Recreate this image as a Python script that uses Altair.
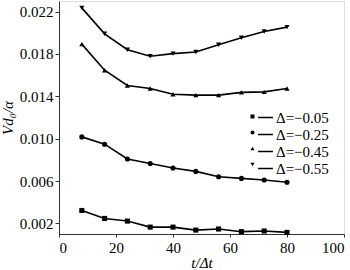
import altair as alt
import pandas as pd

t = [8, 16, 24, 32, 40, 48, 56, 64, 72, 80]
series = ["Δ=−0.05", "Δ=−0.25", "Δ=−0.45", "Δ=−0.55"]
d005 = [0.00322, 0.00247, 0.00222, 0.00165, 0.00165, 0.00137, 0.00147, 0.00122, 0.00128, 0.00115]
d025 = [0.01017, 0.00948, 0.00808, 0.00766, 0.00723, 0.00691, 0.00641, 0.00625, 0.00610, 0.00588]
d045 = [0.01893, 0.01646, 0.01502, 0.01474, 0.01420, 0.01411, 0.01411, 0.01437, 0.01442, 0.01474]
d055 = [0.02235, 0.01990, 0.01840, 0.01778, 0.01803, 0.01818, 0.01887, 0.01953, 0.02012, 0.02053]
x_ticks = [0, 20, 40, 60, 80, 100]
y_ticks = [0.002, 0.006, 0.010, 0.014, 0.018, 0.022]

rows = []
for name, vals in zip(series, [d005, d025, d045, d055]):
    for tt, v in zip(t, vals):
        rows.append({"t": tt, "v": v, "series": name, "label": name})
df = pd.DataFrame(rows)

FONT = "Times New Roman, Liberation Serif, serif"

x = alt.X("t:Q", scale=alt.Scale(domain=[0, 100], nice=False),
          axis=alt.Axis(values=x_ticks, title="t/Δt", titleFontStyle="italic",
                        titleFont=FONT, titleFontSize=15, titleFontWeight="normal",
                        titlePadding=0, labelFont=FONT, labelFontSize=15,
                        labelPadding=3, tickSize=3, grid=False, domainColor="#333",
                        tickColor="#333", labelColor="black", titleColor="black"))
y = alt.Y("v:Q", scale=alt.Scale(domain=[0.001, 0.023], nice=False, zero=False),
          axis=alt.Axis(values=y_ticks, format=".3f", title="Vd₀/α", titleFontStyle="italic",
                        titleFont=FONT, titleFontSize=15, titleFontWeight="normal",
                        titlePadding=4, labelFont=FONT, labelFontSize=15,
                        labelPadding=2, tickSize=4, grid=False, domainColor="#333",
                        tickColor="#333", labelColor="black", titleColor="black"))

lines = alt.Chart(df).mark_line(strokeWidth=1.6).encode(
    x=x, y=y,
    color=alt.Color("label:N", sort=series,
                    scale=alt.Scale(range=["black"] * 4),
                    legend=alt.Legend(title=None, orient="none", legendX=198, legendY=108,
                                      symbolType="stroke", symbolSize=220,
                                      symbolStrokeWidth=1.5, symbolStrokeColor="black",
                                      labelFont=FONT, labelFontSize=15, labelColor="black",
                                      labelOffset=2, rowPadding=0, padding=0)),
)
points = alt.Chart(df).mark_point(filled=True, opacity=1, color="black").encode(
    x=x, y=y,
    shape=alt.Shape("series:N", sort=series,
                    scale=alt.Scale(range=["square", "circle", "triangle-up", "triangle-down"]),
                    legend=alt.Legend(title=None, orient="none", legendX=186, legendY=108,
                                      symbolSize=16, symbolFillColor="black",
                                      symbolStrokeColor="black", labelExpr="''",
                                      labelFontSize=15, rowPadding=0, padding=0,
                                      labelOffset=0)),
    size=alt.value(26),
)

chart = alt.layer(lines, points).properties(
    width=285, height=233,
    autosize=alt.AutoSizeParams(type="none"),
    padding={"left": 59, "top": 1, "right": 6, "bottom": 36},
).configure_view(stroke="#333", strokeWidth=1).configure(
    background="white", font=FONT
)

chart.save("out.html", embed_options={"renderer": "svg", "actions": False})
